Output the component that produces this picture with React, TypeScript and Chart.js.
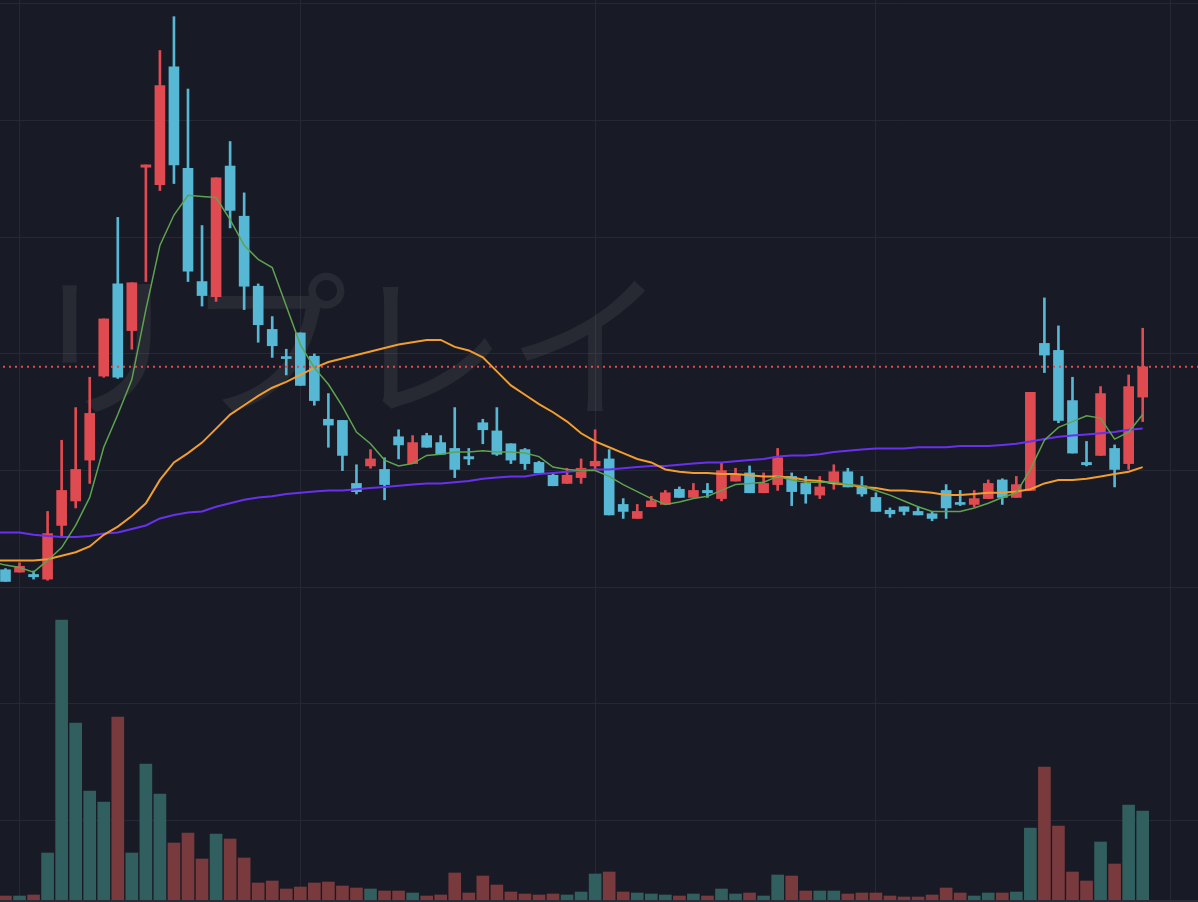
import { useEffect, useRef } from "react";
import { Chart, registerables } from "chart.js";

Chart.register(...registerables);

// daily candles, index 0 = leftmost visible day
const opens = [
  1015, 1013, 1011, 1007, 1053, 1074, 1109, 1181, 1260, 1220,
  1360, 1345, 1446, 1359, 1262, 1249, 1361, 1318, 1258, 1221,
  1197, 1218, 1198, 1144, 1143, 1089, 1104, 1101, 1129, 1106,
  1130, 1124, 1119, 1112, 1141, 1134, 1123, 1118, 1107, 1096,
  1089, 1094, 1104, 1110, 1071, 1059, 1069, 1071, 1084, 1077,
  1083, 1076, 1091, 1098, 1081, 1088, 1095, 1089, 1079, 1089,
  1099, 1087, 1077, 1066, 1069, 1065, 1063, 1083, 1072, 1071,
  1076, 1092, 1077, 1083, 1209, 1203, 1160, 1107, 1113, 1119,
  1106, 1163,
];
const highs = [
  1016, 1021, 1014, 1065, 1126, 1154, 1180, 1230, 1317, 1261,
  1362, 1460, 1489, 1427, 1310, 1351, 1382, 1338, 1260, 1232,
  1204, 1218, 1200, 1166, 1143, 1105, 1118, 1111, 1135, 1130,
  1132, 1130, 1154, 1119, 1144, 1154, 1123, 1119, 1108, 1098,
  1102, 1110, 1135, 1118, 1076, 1071, 1078, 1083, 1086, 1089,
  1089, 1107, 1102, 1104, 1098, 1119, 1098, 1095, 1095, 1105,
  1102, 1095, 1081, 1068, 1069, 1069, 1065, 1088, 1083, 1083,
  1092, 1093, 1095, 1167, 1248, 1224, 1180, 1125, 1172, 1122,
  1182, 1222,
];
const lows = [
  1005, 1013, 1007, 1006, 1043, 1068, 1089, 1180, 1179, 1204,
  1262, 1340, 1346, 1262, 1241, 1245, 1308, 1238, 1210, 1197,
  1182, 1173, 1156, 1120, 1100, 1080, 1102, 1075, 1110, 1106,
  1120, 1114, 1094, 1105, 1123, 1113, 1106, 1101, 1098, 1087,
  1089, 1089, 1100, 1062, 1059, 1059, 1069, 1071, 1077, 1077,
  1077, 1074, 1091, 1081, 1081, 1083, 1070, 1072, 1076, 1084,
  1086, 1078, 1065, 1060, 1062, 1062, 1057, 1059, 1070, 1069,
  1076, 1071, 1077, 1083, 1184, 1141, 1115, 1104, 1113, 1086,
  1101, 1142,
];
const closes = [
  1005, 1018, 1009, 1046, 1083, 1101, 1149, 1230, 1180, 1261,
  1362, 1430, 1362, 1271, 1250, 1351, 1323, 1258, 1225, 1207,
  1196, 1173, 1160, 1139, 1113, 1082, 1110, 1088, 1122, 1124,
  1120, 1114, 1101, 1110, 1135, 1114, 1109, 1106, 1098, 1087,
  1096, 1102, 1108, 1062, 1065, 1065, 1074, 1081, 1077, 1083,
  1081, 1100, 1096, 1081, 1089, 1111, 1082, 1080, 1086, 1099,
  1086, 1080, 1065, 1063, 1065, 1062, 1059, 1068, 1071, 1076,
  1089, 1077, 1088, 1167, 1199, 1143, 1115, 1105, 1166, 1101,
  1172, 1189,
];
const volumes = [
  40, 40, 50, 470, 2800, 1770, 1090, 980, 1830, 470,
  1360, 1060, 570, 670, 410, 660, 610, 420, 170, 190,
  110, 130, 170, 180, 140, 120, 110, 90, 90, 70,
  40, 50, 270, 70, 240, 150, 80, 60, 50, 60,
  50, 80, 260, 280, 80, 70, 60, 50, 40, 60,
  40, 110, 60, 70, 40, 250, 240, 90, 90, 90,
  60, 70, 70, 40, 30, 30, 50, 120, 70, 40,
  70, 70, 80, 720, 1330, 740, 280, 190, 580, 360,
  950, 890,
];
// moving averages start one day earlier (index -1, just off the left edge)
const maStart = -1;
const ma5 = [
  1022,
  1019, 1017, 1013, 1023, 1034, 1053, 1077, 1120, 1148, 1178,
  1238, 1293, 1319, 1336, 1335, 1334, 1315, 1293, 1281, 1274,
  1241, 1208, 1188, 1174, 1155, 1133, 1123, 1109, 1104, 1106,
  1113, 1114, 1116, 1116, 1117, 1116, 1116, 1115, 1112, 1103,
  1101, 1100, 1100, 1095, 1088, 1082, 1076, 1071, 1073, 1076,
  1078, 1083, 1088, 1089, 1090, 1095, 1092, 1090, 1090, 1090,
  1088, 1087, 1083, 1079, 1074, 1069, 1065, 1065, 1065, 1068,
  1072, 1077, 1081, 1101, 1126, 1137, 1142, 1147, 1145, 1127,
  1133, 1148,
];
const ma25 = [
  1023,
  1023, 1023, 1023, 1024, 1027, 1030, 1035, 1045, 1052, 1061,
  1072, 1092, 1107, 1115, 1124, 1136, 1148, 1156, 1164, 1171,
  1176, 1182, 1188, 1193, 1196, 1199, 1202, 1205, 1208, 1210,
  1212, 1212, 1206, 1203, 1197, 1185, 1173, 1165, 1157, 1150,
  1142, 1132, 1125, 1120, 1115, 1110, 1107, 1101, 1099, 1098,
  1098, 1097, 1097, 1096, 1095, 1095, 1094, 1092, 1091, 1089,
  1088, 1086, 1085, 1083, 1083, 1082, 1081, 1079, 1079, 1080,
  1081, 1081, 1082, 1084, 1089, 1092, 1092, 1093, 1095, 1097,
  1099, 1103,
];
const ma75 = [
  1047,
  1047, 1047, 1045, 1044, 1043, 1043, 1044, 1046, 1047, 1050,
  1053, 1059, 1062, 1064, 1065, 1069, 1072, 1075, 1077, 1078,
  1080, 1081, 1082, 1083, 1083, 1084, 1085, 1086, 1087, 1088,
  1089, 1089, 1090, 1091, 1093, 1094, 1095, 1095, 1097, 1098,
  1099, 1100, 1101, 1101, 1102, 1103, 1104, 1104, 1105, 1106,
  1107, 1107, 1108, 1109, 1110, 1112, 1113, 1113, 1114, 1116,
  1117, 1118, 1119, 1119, 1119, 1120, 1120, 1120, 1121, 1121,
  1121, 1122, 1123, 1125, 1127, 1129, 1130, 1131, 1132, 1133,
  1135, 1136,
];
const priceTicks = [800, 900, 1000, 1100, 1200, 1300, 1400, 1500];
const monthStarts = [1, 21, 42, 62, 83];
const watermark = "リプレイ";

const BG = "#181a25";
const GRID = "#262935";
const UP = "#e04a51";
const DOWN = "#56b8d4";
const VOL_UP = "#315e5f";
const VOL_DOWN = "#793a3d";

const decor = {
  id: "decor",
  beforeDraw(chart: Chart) {
    const { ctx, width, height } = chart;
    ctx.save();
    ctx.fillStyle = BG;
    ctx.fillRect(0, 0, width, height);
    ctx.restore();
  },
  beforeDatasetsDraw(chart: Chart) {
    const { ctx } = chart;
    ctx.save();
    ctx.fillStyle = "rgba(255,255,255,0.065)";
    ctx.font = '160px "Noto Sans CJK JP"';
    ctx.textAlign = "center";
    ctx.textBaseline = "middle";
    ctx.fillText(watermark, 347, 345);
    ctx.restore();
  },
  afterDatasetsDraw(chart: Chart) {
    const { ctx, chartArea } = chart;
    const last = closes.length - 1;
    const y = chart.scales.y.getPixelForValue(closes[last]);
    ctx.save();
    ctx.strokeStyle = closes[last] >= opens[last] ? UP : DOWN;
    ctx.lineWidth = 2;
    ctx.setLineDash([2, 4]);
    ctx.beginPath();
    ctx.moveTo(chartArea.left + 3, y);
    ctx.lineTo(chartArea.right, y);
    ctx.stroke();
    ctx.restore();
  },
  afterDraw(chart: Chart) {
    const { ctx, chartArea, width } = chart;
    ctx.save();
    ctx.fillStyle = "#2a2d38";
    ctx.fillRect(0, chartArea.bottom, width, 2);
    ctx.restore();
  },
};

export default function App() {
  const canvasRef = useRef<HTMLCanvasElement>(null);
  const chartRef = useRef<Chart | null>(null);

  useEffect(() => {
    if (!canvasRef.current) return;
    if (chartRef.current) chartRef.current.destroy();
    const ctx = canvasRef.current.getContext("2d");
    if (!ctx) return;

    const isUp = closes.map((c, i) => c >= opens[i]);
    const candleColors = isUp.map((u) => (u ? UP : DOWN));
    const volumeColors = isUp.map((u) => (u ? VOL_UP : VOL_DOWN));

    const line = (label: string, values: number[], color: string, width: number, order: number) => ({
      type: "line" as const,
      label,
      data: values.map((v, i) => ({ x: i + maStart, y: v })),
      borderColor: color,
      borderWidth: width,
      pointRadius: 0,
      tension: 0,
      order,
      yAxisID: "y",
    });

    chartRef.current = new Chart(ctx, {
      type: "bar",
      data: {
        datasets: [
          line("MA5", ma5, "#5ea44f", 1.5, 0),
          line("MA25", ma25, "#f29d2e", 2, 1),
          line("MA75", ma75, "#6a30f0", 2, 2),
          {
            label: "body",
            data: opens.map((o, i) => ({ x: i, y: [Math.min(o, closes[i]), Math.max(o, closes[i])] })),
            backgroundColor: candleColors,
            barThickness: 10,
            minBarLength: 2,
            grouped: false,
            order: 3,
            yAxisID: "y",
          },
          {
            label: "wick",
            data: lows.map((l, i) => ({ x: i, y: [l, highs[i]] })),
            backgroundColor: candleColors,
            barThickness: 2,
            grouped: false,
            order: 4,
            yAxisID: "y",
          },
          {
            label: "volume",
            data: volumes.map((v, i) => ({ x: i, y: v })),
            backgroundColor: volumeColors,
            barThickness: 12,
            grouped: false,
            order: 5,
            yAxisID: "yv",
          },
        ] as any,
      },
      options: {
        responsive: false,
        animation: false,
        layout: { padding: { left: 0, right: 0, top: 0, bottom: 2 } },
        plugins: {
          legend: { display: false },
          tooltip: { enabled: false },
        },
        scales: {
          x: {
            type: "linear",
            min: -0.39,
            max: 84.94,
            offset: false,
            afterBuildTicks: (scale: any) => {
              scale.ticks = monthStarts.map((v) => ({ value: v }));
            },
            ticks: { display: false },
            grid: { color: GRID, lineWidth: 1, drawTicks: false, offset: false },
            border: { display: false },
          },
          y: {
            type: "linear",
            position: "left",
            min: 732,
            max: 1503.3,
            afterBuildTicks: (scale: any) => {
              scale.ticks = priceTicks.map((v) => ({ value: v }));
            },
            ticks: { display: false },
            grid: { color: GRID, lineWidth: 1, drawTicks: false },
            border: { display: false },
          },
          yv: {
            type: "linear",
            display: false,
            min: 0,
            max: 9000,
          },
        },
      },
      plugins: [decor],
    });

    return () => {
      if (chartRef.current) {
        chartRef.current.destroy();
        chartRef.current = null;
      }
    };
  }, []);

  return (
    <div style={{ position: "fixed", left: 0, top: 0, width: 1198, height: 902, background: BG }}>
      <canvas ref={canvasRef} width={1198} height={902} style={{ display: "block" }}></canvas>
    </div>
  );
}
